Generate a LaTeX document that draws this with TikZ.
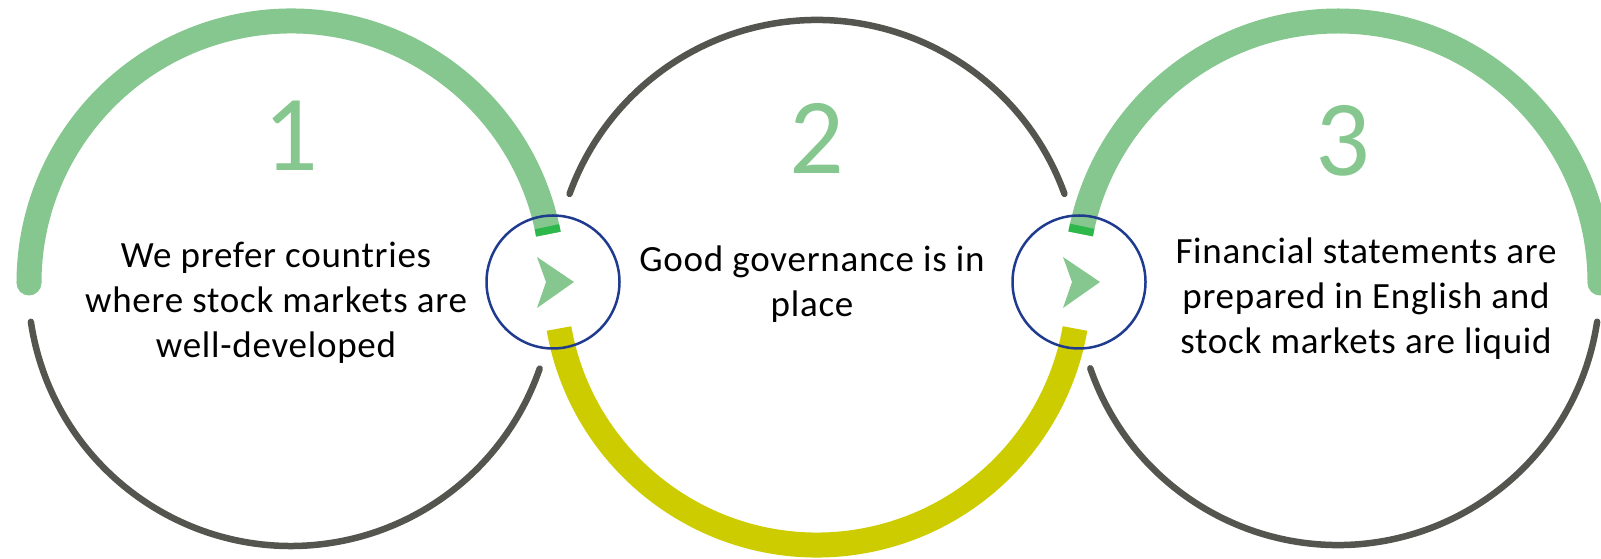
\documentclass[tikz,border=0pt]{standalone}
\usepackage{fontspec}
\setmainfont{Carlito}
\definecolor{leafgreen}{HTML}{85C78E}
\definecolor{deepgreen}{HTML}{2DB84B}
\definecolor{mustard}{HTML}{CCCC00}
\definecolor{slate}{HTML}{555550}
\definecolor{navy}{HTML}{1F3B8F}
\begin{document}
\begin{tikzpicture}[x=1pt,y=1pt]
\tikzset{thickarc/.style={line width=25pt, line cap=butt},
  thinarc/.style={draw=slate, line width=6.5pt, line cap=round},
  pivot/.style={draw=navy, circle, line width=2.5pt, minimum size=133pt, inner sep=0pt},
  bignum/.style={text=leafgreen, font=\fontsize{108}{108}\selectfont},
  stepText/.style={align=center, font=\fontsize{37}{45}\selectfont\addfontfeature{LetterSpace=2}}}
\useasboundingbox (0,0) rectangle (1601,559);
\clip (0,0) rectangle (1601,559);
\coordinate (C1) at (291,276);
\coordinate (C2) at (817,276);
\coordinate (C3) at (1338,276);
% first ring
\draw[thickarc, leafgreen] (C1) ++(10.75:262) arc[start angle=10.75, end angle=180, radius=262] coordinate (E1);
\fill[leafgreen] (E1) circle (12.5);
\draw[thickarc, deepgreen] (C1) ++(10.75:262) arc[start angle=10.75, end angle=12.4, radius=262];
\draw[thinarc] (C1) ++(188.5:263) arc[start angle=188.5, end angle=341, radius=263];
% second ring
\draw[thinarc] (C2) ++(19.8:263) arc[start angle=19.8, end angle=160.2, radius=263];
\draw[thickarc, mustard] (C2) ++(190:262) arc[start angle=190, end angle=350, radius=262];
% third ring
\draw[thickarc, leafgreen] (C3) ++(0:262) arc[start angle=0, end angle=169.2, radius=262];
\fill[leafgreen] (C3) ++(0:262) circle (12.5);
\draw[thickarc, deepgreen] (C3) ++(169.2:262) arc[start angle=169.2, end angle=167.5, radius=262];
\draw[thinarc] (C3) ++(199:262) arc[start angle=199, end angle=351.5, radius=262];
% pivots
\node[pivot] (P1) at (553,277) {};
\node[pivot] (P2) at (1079,277) {};
\foreach \p in {P1,P2}
  \fill[leafgreen] ([shift={(-16,25)}]\p.center) -- ([shift={(21,0)}]\p.center)
    -- ([shift={(-16,-26)}]\p.center) -- ([shift={(-7,0)}]\p.center) -- cycle;
% numbers
\node[bignum] (N1) at (291,423) {1};
\node[bignum] (N2) at (817,421) {2};
\node[bignum] (N3) at (1343,418) {3};
% texts
\node[stepText] (T1) at (276,256) {We prefer countries\\where stock markets are\\well-developed};
\node[stepText] (T2) at (812,275) {Good governance is in\\place};
\node[stepText] (T3) at (1366,260) {Financial statements are\\prepared in English and\\stock markets are liquid};
\end{tikzpicture}
\end{document}
